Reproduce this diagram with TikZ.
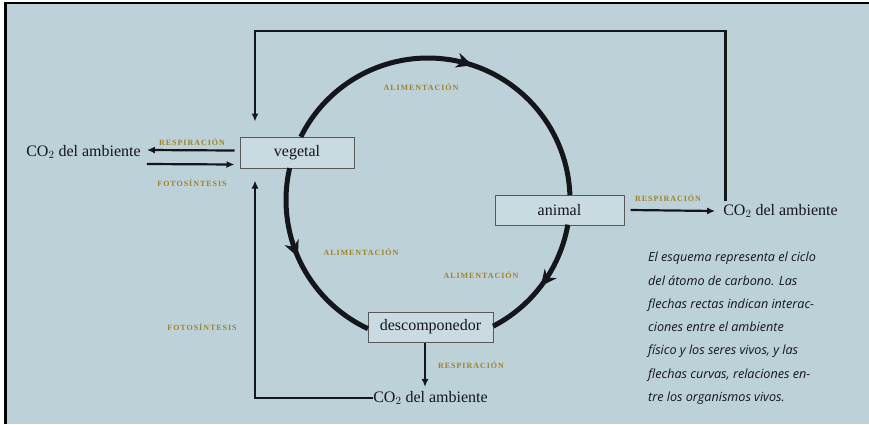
\documentclass[tikz,border=0pt]{standalone}
\usepackage{fontspec}
\setmainfont{Liberation Serif}
\newfontfamily\capfont{Open Sans}
\newfontfamily\labfont[LetterSpace=12]{Liberation Serif}
\usetikzlibrary{arrows.meta,decorations.markings}
\definecolor{bg}{RGB}{188,209,216}
\definecolor{boxfill}{RGB}{201,218,224}
\definecolor{gold}{RGB}{160,130,40}
\definecolor{ink}{RGB}{20,22,28}
\tikzset{
  box/.style={draw=black!65, line width=1pt, fill=boxfill, inner sep=0pt,
    font=\fontsize{16}{18}\selectfont, text=ink},
  plain/.style={inner sep=0pt, font=\fontsize{16}{18}\selectfont, text=ink},
  lab/.style={inner sep=0pt, font=\labfont\bfseries\fontsize{8}{9}\selectfont, text=gold},
  arr/.style={draw=ink, line width=2.2pt, -{Latex[length=8pt,width=7pt]}},
  ring/.style={draw=ink, line width=5pt},
  midarrow/.style={postaction={decorate}, decoration={markings,
    mark=at position #1 with {\arrow{Stealth[length=16pt,width=15pt,inset=5pt]}}}}
}
\begin{document}
\begin{tikzpicture}[x=1pt,y=-1pt]
\useasboundingbox (0,0) rectangle (869,424);
\fill[white] (0,0) rectangle (869,424);
\fill[bg] (5,3) rectangle (869,424);
\draw[black, line width=2.2pt] (5.5,424) -- (5.5,3) -- (869,3);

% nodes
\node[box, minimum width=114pt, minimum height=31pt] (veg) at (297,152.5) {vegetal};
\node[box, minimum width=129pt, minimum height=30pt] (ani) at (559.5,210) {animal};
\node[box, minimum width=125pt, minimum height=30pt] (des) at (430.5,327) {descomponedor};
\node[plain] (co2l) at (83.5,152) {CO$_2$ del ambiente};
\node[plain] (co2r) at (780.5,211) {CO$_2$ del ambiente};
\node[plain] (co2b) at (430.5,398) {CO$_2$ del ambiente};

% cycle arcs
\draw[ring, midarrow=0.54] plot[domain=206.4:358, samples=80] ({428+142*cos(\x)},{200+142*sin(\x)});
\draw[ring, midarrow=0.52] plot[domain=10:62.7, samples=40] ({428+142*cos(\x)},{200+142*sin(\x)});
\draw[ring, midarrow=0.47] plot[domain=193:115, samples=60] ({428+142*cos(\x)},{200+142*sin(\x)});

% straight arrows
\draw[arr] ([shift={(-5,-2)}]veg.west) -- ([shift={(6,-2)}]co2l.east);
\draw[arr] ([shift={(6,12)}]co2l.east) -- ([shift={(-5,12)}]veg.west);
\draw[arr] ([xshift=6]ani.east) -- ([xshift=-8]co2r.west);
\draw[arr] ([xshift=-5.5]des.south) -- ([shift={(-5.5,-4)}]co2b.north);
\coordinate (bl) at (255,398);
\coordinate (tl) at (255,31);
\draw[arr] (co2b.west) -- (bl) -- ([shift={(-42,12)}]veg.south);
\draw[arr] ([shift={(-55,-3)}]co2r.north) |- (tl) -- ([shift={(-42,-15)}]veg.north);

% labels
\node[lab] at (421,87) {ALIMENTACIÓN};
\node[lab] at (361,252) {ALIMENTACIÓN};
\node[lab] at (481,275) {ALIMENTACIÓN};
\node[lab] at (192,142) {RESPIRACIÓN};
\node[lab] at (192,183) {FOTOSÍNTESIS};
\node[lab] at (668,198) {RESPIRACIÓN};
\node[lab] at (471,365) {RESPIRACIÓN};
\node[lab] at (202,327) {FOTOSÍNTESIS};

% caption
\node[anchor=north west, inner sep=0pt, align=left, text=ink,
  font=\capfont\itshape\fontsize{12.6}{23.3}\selectfont] (cap) at (648,252)
  {El esquema representa el ciclo\\
   del átomo de carbono. Las\\
   flechas rectas indican interac-\\
   ciones entre el ambiente\\
   físico y los seres vivos, y las\\
   flechas curvas, relaciones en-\\
   tre los organismos vivos.};
\end{tikzpicture}
\end{document}
